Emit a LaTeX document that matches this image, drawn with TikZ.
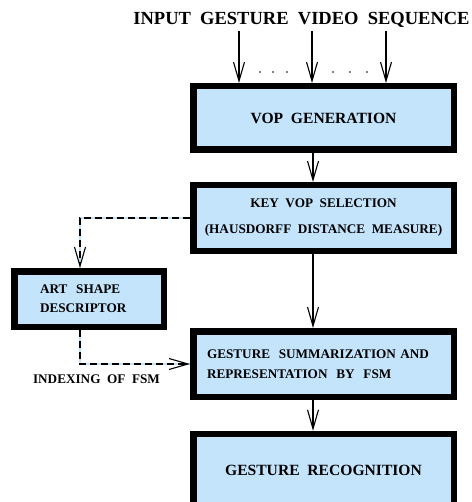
\documentclass[tikz,border=0pt]{standalone}
\usepackage{fontspec}
\setmainfont{Liberation Serif}
\usetikzlibrary{arrows.meta,positioning}
\definecolor{boxblue}{RGB}{196,228,252}

\begin{document}
\begin{tikzpicture}[x=1pt,y=-1pt,on grid,
   blk/.style={draw,line width=6.5pt,fill=boxblue,minimum width=260.5pt,
      minimum height=65.5pt,inner sep=0pt,align=center,
      font=\fontsize{13.2}{26}\selectfont\bfseries},
   arr/.style={line width=1.1pt,-{Straight Barb[length=19pt,width=11pt]}},
   dsh/.style={arr,dash pattern=on 7pt off 4pt,
      preaction={draw=boxblue,solid,line width=1.6pt,-}}]
   \useasboundingbox (0,0) rectangle (471,502);
   \node (title) at (301.5,20) [font=\fontsize{18.5}{22}\selectfont\bfseries]
      {INPUT~~GESTURE~~VIDEO~~SEQUENCE};
   \node[blk,minimum height=63.5pt,font=\fontsize{15.6}{19}\selectfont\bfseries]
      (vop) at (323.5,118) {VOP~~GENERATION};
   \node[blk] (key_vop) [below=100pt of vop]
      {KEY~~VOP~~SELECTION\\(HAUSDORFF~~DISTANCE~~MEASURE)};
   \node[blk,align=left,text width=233pt,font=\fontsize{13.2}{20}\selectfont\bfseries]
      (summ) [below=146pt of key_vop]
      {GESTURE~~SUMMARIZATION~AND\\REPRESENTATION~~BY~~FSM};
   \node[blk,minimum height=72pt,font=\fontsize{15.6}{19}\selectfont\bfseries]
      (recog) [below=106pt of summ] {GESTURE~~RECOGNITION};
   \node[blk,minimum width=149.5pt,minimum height=55.5pt,align=left,text width=98pt,
      font=\fontsize{13.2}{19}\selectfont\bfseries]
      (art) at (89,299) {ART~~SHAPE\\DESCRIPTOR};
   \node[font=\fontsize{13.2}{16}\selectfont\bfseries] (idx) at (96.5,379)
      {INDEXING~~OF~~FSM};

   % input frames
   \foreach \x in {239,312,386} {
      \coordinate (c) at (\x,0);
      \draw[arr] (title.south -| c) -- (vop.north -| c);
   }
   \foreach \x in {260,273,287,333,350,367}
      \fill (\x,72) circle (0.8pt);

   \coordinate (spine) at (313,0);
   \coordinate (side) at (80,0);
   \draw[arr] (vop.south -| spine) -- (key_vop.north -| spine);
   \draw[arr] (key_vop.south -| spine) -- (summ.north -| spine);
   \draw[arr] (summ.south -| spine) -- (recog.north -| spine);
   \draw[dsh] (key_vop.west) -| (art.north -| side);
   \draw[dsh] (art.south -| side) |- (summ.west);
\end{tikzpicture}
\end{document}
